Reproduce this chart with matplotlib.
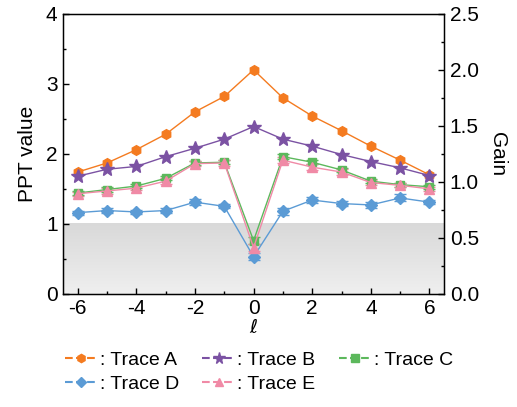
import numpy as np
import matplotlib
matplotlib.use("Agg")
import matplotlib.pyplot as plt
from matplotlib.lines import Line2D
from matplotlib.colors import LinearSegmentedColormap

plt.rcParams['font.family'] = ['Liberation Sans', 'DejaVu Sans']
plt.rcParams['axes.unicode_minus'] = False

ell = [-6, -5, -4, -3, -2, -1, 0, 1, 2, 3, 4, 5, 6]
trace_a = [1.74, 1.87, 2.06, 2.28, 2.60, 2.82, 3.20, 2.80, 2.54, 2.33, 2.11, 1.91, 1.70]
trace_b = [1.68, 1.78, 1.82, 1.96, 2.08, 2.21, 2.39, 2.21, 2.11, 1.99, 1.89, 1.80, 1.69]
trace_c = [1.44, 1.49, 1.54, 1.65, 1.87, 1.88, 0.76, 1.96, 1.88, 1.77, 1.61, 1.56, 1.53]
trace_d = [1.16, 1.19, 1.17, 1.19, 1.31, 1.25, 0.53, 1.18, 1.34, 1.29, 1.27, 1.37, 1.31]
trace_e = [1.43, 1.47, 1.51, 1.61, 1.86, 1.87, 0.66, 1.91, 1.81, 1.74, 1.59, 1.55, 1.50]
err_c = [0.03, 0.03, 0.03, 0.03, 0.03, 0.03, 0.05, 0.04, 0.03, 0.03, 0.03, 0.03, 0.03]
err_d = [0.03, 0.03, 0.03, 0.03, 0.04, 0.03, 0.05, 0.05, 0.04, 0.04, 0.04, 0.05, 0.03]
err_e = [0.03, 0.04, 0.03, 0.04, 0.04, 0.04, 0.05, 0.04, 0.04, 0.04, 0.03, 0.03, 0.03]
labels = [': Trace A', ': Trace B', ': Trace C', ': Trace D', ': Trace E']

colors = ['#f47b20', '#7b52a3', '#5cb85c', '#5b9bd5', '#f08aa6']
markers = ['h', '*', 's', 'D', '^']
msizes = [7, 10, 6, 6, 7]

fig = plt.figure(figsize=(5.17, 4.07), dpi=100)
ax = fig.add_axes([0.122, 0.278, 0.737, 0.688])

grad = np.linspace(0, 1, 256).reshape(-1, 1)
cmap = LinearSegmentedColormap.from_list('g', ['#efefef', '#d9d9d9'])
ax.imshow(grad, extent=[-6.5, 6.5, 0, 1], origin='lower', aspect='auto', cmap=cmap, zorder=0)

series = [(trace_a, None), (trace_b, None), (trace_c, err_c), (trace_d, err_d), (trace_e, err_e)]
order = [0, 1, 3, 2, 4]
for i in order:
    y, e = series[i]
    if e is None:
        ax.plot(ell, y, color=colors[i], marker=markers[i], ms=msizes[i], lw=1.0, zorder=3)
    else:
        ax.errorbar(ell, y, yerr=e, color=colors[i], marker=markers[i], ms=msizes[i], lw=1.0,
                    capsize=4, elinewidth=1.0, capthick=1.0, zorder=3)

ax.set_xlim(-6.5, 6.5)
ax.set_ylim(0, 4)
ax.set_xticks([-6, -4, -2, 0, 2, 4, 6])
ax.set_xticks(range(-6, 7), minor=True)
ax.set_yticks([0, 1, 2, 3, 4])
ax.set_yticks(np.arange(0, 4.01, 0.5), minor=True)
ax.tick_params(axis='both', which='major', direction='in', length=4, width=1, labelsize=15, pad=4)
ax.tick_params(axis='both', which='minor', direction='in', length=2, width=1)
ax.set_ylabel('PPT value', fontsize=15, labelpad=6)
ax.set_xlabel(r'$\ell$', fontsize=14, labelpad=0)
for s in ax.spines.values():
    s.set_linewidth(1.0)

ax2 = ax.twinx()
ax2.set_ylim(0, 2.5)
ax2.set_yticks([0, 0.5, 1.0, 1.5, 2.0, 2.5])
ax2.set_yticklabels(['0.0', '0.5', '1.0', '1.5', '2.0', '2.5'])
ax2.set_yticks(np.arange(0, 2.51, 0.25), minor=True)
ax2.tick_params(axis='y', which='major', direction='in', length=4, width=1, labelsize=15, pad=4)
ax2.tick_params(axis='y', which='minor', direction='in', length=2, width=1)
ax2.set_ylabel('Gain', fontsize=15, rotation=270, labelpad=20)

handles = [Line2D([0], [0], color=colors[i], marker=markers[i], ms=msizes[i] * 0.85, lw=1.5,
                  linestyle='--') for i in range(5)]
leg_order = [0, 3, 1, 4, 2]
fig.legend([handles[i] for i in leg_order], [labels[i] for i in leg_order],
           loc='upper left', bbox_to_anchor=(0.11, 0.155), ncol=3,
           frameon=False, fontsize=14, handlelength=1.7, handletextpad=0.1,
           columnspacing=1.2, labelspacing=0.3, borderaxespad=0)

fig.savefig('out.png', dpi=100)
